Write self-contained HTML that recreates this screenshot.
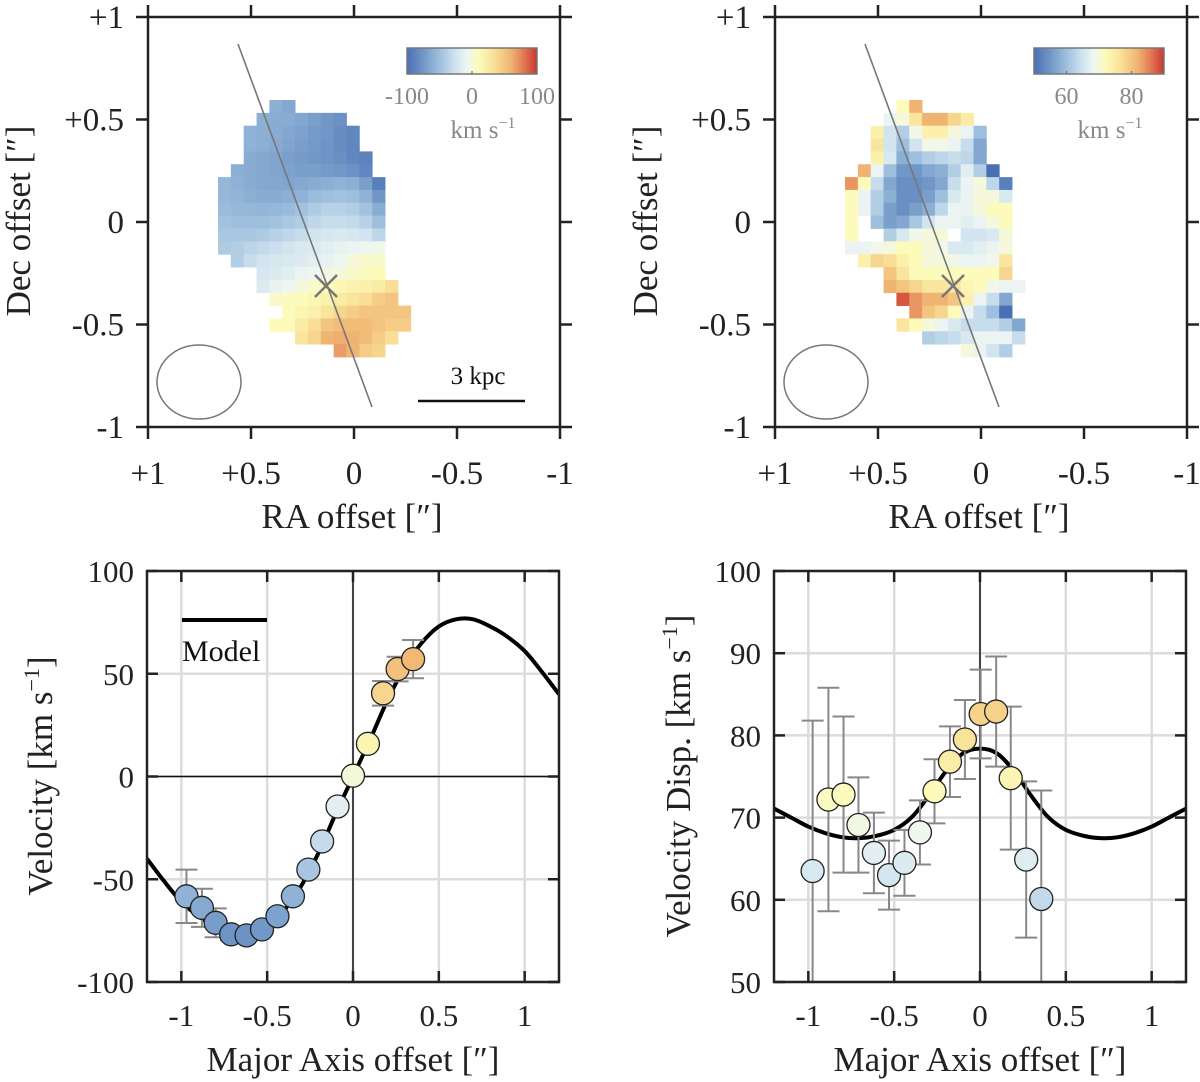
<!DOCTYPE html>
<html><head><meta charset="utf-8"><style>
html,body{margin:0;padding:0;background:#fff;}
svg{display:block;font-family:"Liberation Serif",serif;}
</style></head><body>
<svg id="fig" width="1200" height="1082" viewBox="0 0 1200 1082" xmlns="http://www.w3.org/2000/svg">
<defs>
<linearGradient id="cmap" x1="0" x2="1" y1="0" y2="0">
<stop offset="0" stop-color="#4a6fb5"/><stop offset="0.12" stop-color="#6f95c6"/><stop offset="0.25" stop-color="#9ebfdd"/><stop offset="0.37" stop-color="#cfe3ef"/><stop offset="0.46" stop-color="#eef6f2"/><stop offset="0.55" stop-color="#fdfbbb"/><stop offset="0.66" stop-color="#f9e39a"/><stop offset="0.8" stop-color="#f0b472"/><stop offset="0.91" stop-color="#e0714e"/><stop offset="1" stop-color="#c6392f"/>
</linearGradient>
<clipPath id="clipL"><rect x="147" y="571" width="412" height="411"/></clipPath>
<clipPath id="clipR"><rect x="774" y="571" width="412" height="411"/></clipPath>
</defs>
<g id="root"></g>
</svg>
<script>
// ---------- data ----------
const velRowStart=[4,3,2,2,2,1,0,0,0,0,0,0,1,3,3,4,5,4,6,9];
const velRows=[
[-60,-65],
[-60,-62,-62,-65,-70,-75,-78],
[-58,-60,-62,-65,-68,-72,-75,-82,-85],
[-58,-60,-63,-66,-70,-73,-76,-82,-85],
[-62,-64,-66,-70,-72,-74,-76,-80,-85,-88],
[-60,-62,-64,-66,-68,-70,-70,-72,-74,-78,-85],
[-55,-58,-62,-64,-65,-66,-64,-62,-60,-58,-60,-70,-90],
[-55,-57,-60,-62,-62,-60,-58,-52,-50,-48,-50,-58,-75],
[-52,-54,-55,-56,-55,-52,-48,-42,-38,-38,-40,-48,-62],
[-48,-50,-50,-50,-48,-44,-40,-34,-30,-30,-32,-38,-50],
[-45,-45,-45,-42,-38,-34,-30,-25,-22,-20,-22,-25,-35],
[-42,-40,-36,-32,-28,-24,-20,-18,-15,-12,-10,-8,-5],
[-40,-30,-25,-22,-20,-18,-15,-12,-8,0,5,5],
[-22,-18,-15,-10,-8,-3,0,5,8,12],
[-18,-12,-8,0,5,10,15,18,20,25,35],
[5,8,10,15,20,25,30,35,45,50],
[10,15,20,30,40,45,50,50,50,50],
[10,12,25,35,50,55,55,55,50,45,45],
[30,40,60,62,60,55,45,35],
[68,60,45,40]];
const dispRowStart=[4,3,2,2,2,1,0,0,0,0,0,0,1,3,3,4,5,4,6,9];
const dispRows=[
[72,82],
[68,70,76,82,82,78,75],
[74,65,62,69,74,74,70,68,60],
[76,65,60,65,69,69,68,64,57],
[74,66,58,60,62,63,64,63,57],
[82,68,60,55,55,57,58,62,67,62,47],
[84,72,64,57,54,54,55,57,64,68,70,63,52],
[72,68,62,58,54,54,56,60,66,68,70,70,66],
[72,68,62,56,54,56,58,63,68,68,70,72,72],
[72,null,60,56,57,61,65,68,68,67,68,70,72],
[72,null,null,62,66,69,70,70,null,65,65,66,70],
[68,68,69,70,72,72,70,69,66,66,67,68,70],
[74,78,77,74,72,70,70,69,68,68,69,76],
[80,76,72,72,72,72,72,72,72,78],
[82,80,78,76,76,76,73,72,69,68,68],
[88,84,82,82,80,74,68,64,57],
[84,80,78,72,68,64,60,50],
[76,72,70,68,66,64,64,64,62,57],
[62,63,64,66,68,68,68,64],
[70,68,65,62]];
const velX=[-0.97,-0.88,-0.80,-0.71,-0.62,-0.53,-0.44,-0.35,-0.26,-0.18,-0.09,0.0,0.087,0.175,0.26,0.35];
const velY=[-58.3,-63.9,-71.2,-76.8,-77.3,-74.4,-68,-58.3,-45.3,-31.6,-14.6,0.4,15.9,40.5,52.3,57.1];
const velErr=[13,9.3,7,3,2,2,2,2,2,2,2,2,2,6,6,9.3];
const modelVX=[-1.2,-1.1,-1.0,-0.9,-0.8,-0.7,-0.6,-0.5,-0.4,-0.3,-0.2,-0.1,0,0.1,0.2,0.3,0.4,0.5,0.6,0.7,0.8,0.9,1.0,1.1,1.2];
const modelV=[-40,-51,-61,-68,-73,-76.5,-76.5,-73,-65,-53,-37,-18,0,18,37,53,65,73,76.5,76.5,73,68,61,51,40];
const dispX=[-0.975,-0.883,-0.795,-0.708,-0.618,-0.53,-0.44,-0.35,-0.265,-0.175,-0.088,0.004,0.094,0.179,0.269,0.357];
const dispY=[63.5,72.2,72.8,69.1,65.7,63.0,64.5,68.2,73.2,76.8,79.5,82.6,82.9,74.8,64.9,60.1];
const dispErr=[18.3,13.6,9.5,5.8,4.9,4.2,4,3.9,3.9,4.3,4.8,5.4,6.7,8.7,9.5,13.2];
const modelDX=[-1.2,-1.1,-1.0,-0.9,-0.8,-0.7,-0.6,-0.5,-0.4,-0.3,-0.2,-0.1,0,0.1,0.2,0.3,0.4,0.5,0.6,0.7,0.8,0.9,1.0,1.1,1.2];
const modelD=[71.1,70.0,68.9,68.1,67.6,67.5,67.8,68.5,70.0,72.6,75.6,77.8,78.4,77.8,75.6,72.6,70.0,68.5,67.8,67.5,67.6,68.1,68.9,70.0,71.1];
const mapTickLabels=["+1","+0.5","0","-0.5","-1"];
const mapTickVals=[1,0.5,0,-0.5,-1];
const lineXTickVals=[-1,-0.5,0,0.5,1];
const lineXTickLabels=["-1","-0.5","0","0.5","1"];
const velTickVals=[100,50,0,-50,-100];
const velTickLabels=["100","50","0","-50","-100"];
const dispTickVals=[100,90,80,70,60,50];
const dispTickLabels=["100","90","80","70","60","50"];

// ---------- helpers ----------
const NS="http://www.w3.org/2000/svg";
const root=document.getElementById('root');
function mk(tag,attrs,parent){const e=document.createElementNS(NS,tag);for(const k in attrs)e.setAttribute(k,attrs[k]);(parent||root).appendChild(e);return e;}
const stops=[[0,[0x4a,0x6f,0xb5]],[0.12,[0x6f,0x95,0xc6]],[0.25,[0x9e,0xbf,0xdd]],[0.37,[0xcf,0xe3,0xef]],[0.46,[0xee,0xf6,0xf2]],[0.55,[0xfd,0xfb,0xbb]],[0.66,[0xf9,0xe3,0x9a]],[0.8,[0xf0,0xb4,0x72]],[0.91,[0xe0,0x71,0x4e]],[1,[0xc6,0x39,0x2f]]];
function cmap(t){t=Math.max(0,Math.min(1,t));for(let i=1;i<stops.length;i++){if(t<=stops[i][0]){const a=stops[i-1],b=stops[i];const f=(t-a[0])/(b[0]-a[0]);const c=a[1].map((v,j)=>Math.round(v+(b[1][j]-v)*f));return `rgb(${c[0]},${c[1]},${c[2]})`;}}return 'rgb(198,57,47)';}
function smoothPath(pts){let d=`M${pts[0][0]},${pts[0][1]}`;for(let i=0;i<pts.length-1;i++){const p0=pts[Math.max(0,i-1)],p1=pts[i],p2=pts[i+1],p3=pts[Math.min(pts.length-1,i+2)];const c1=[p1[0]+(p2[0]-p0[0])/6,p1[1]+(p2[1]-p0[1])/6],c2=[p2[0]-(p3[0]-p1[0])/6,p2[1]-(p3[1]-p1[1])/6];d+=`C${c1[0].toFixed(1)},${c1[1].toFixed(1)} ${c2[0].toFixed(1)},${c2[1].toFixed(1)} ${p2[0].toFixed(1)},${p2[1].toFixed(1)}`;}return d;}

// ---------- map panels ----------
function mapPanel(L,rowStart,rows,vmin,vmax,cbTicks,cbLabels,name){
  const g=mk('g',{});
  
  
  const T=17,B=427,R=L+412;
  const sx=v=>L+(1-v)*206, sy=v=>222-v*205;
  const cell=12.85, ox=L+70, oy=100;
  rows.forEach((row,r)=>{row.forEach((v,i)=>{if(v===null)return;const c=rowStart[r]+i;
    const rc=mk('rect',{x:(ox+c*cell).toFixed(2),y:(oy+r*cell).toFixed(2),width:cell+0.4,height:cell+0.4,fill:cmap((v-vmin)/(vmax-vmin))},g);
    
    });});
  const ln=mk('line',{x1:L+90,y1:44,x2:L+224,y2:407,stroke:'#777','stroke-width':1.6},g);
  
  
  const cx=L+178,cy=286;
  const cr=mk('path',{d:`M${cx-11},${cy-11}L${cx+11},${cy+11}M${cx-11},${cy+11}L${cx+11},${cy-11}`,stroke:'#777','stroke-width':2.5,fill:'none'},g);
  
  
  const el=mk('ellipse',{cx:L+51,cy:382,rx:42,ry:37,fill:'none',stroke:'#777','stroke-width':1.5},g);
  
  
  const fr=mk('rect',{x:L,y:T,width:412,height:410,fill:'none',stroke:'#222','stroke-width':2.5},g);
  
  
  mapTickVals.forEach((v,i)=>{
    const x=sx(v),y=sy(v);
    mk('line',{x1:x,y1:B,x2:x,y2:B+12,stroke:'#222','stroke-width':2.5},g);
    mk('line',{x1:x,y1:T,x2:x,y2:T-12,stroke:'#222','stroke-width':2.5},g);
    mk('line',{x1:L,y1:y,x2:L-12,y2:y,stroke:'#222','stroke-width':2.5},g);
    mk('line',{x1:R,y1:y,x2:R+12,y2:y,stroke:'#222','stroke-width':2.5},g);
    const tx=mk('text',{x:x,y:484,'font-size':33,'text-anchor':'middle',fill:'#222'},g);tx.textContent=mapTickLabels[i];
    
    
    const ty=mk('text',{x:L-24,y:y+11,'font-size':33,'text-anchor':'end',fill:'#222'},g);ty.textContent=mapTickLabels[i];
    
    
  });
  const xt=mk('text',{x:L+204,y:528,'font-size':35,'text-anchor':'middle',fill:'#222'},g);xt.textContent='RA offset [″]';
  
  
  const yt=mk('text',{x:0,y:0,'font-size':35,'text-anchor':'middle',fill:'#222',transform:`translate(${L-118},221) rotate(-90)`},g);yt.textContent='Dec offset [″]';
  
  
  const cbL=L+259,cbW=130;
  const cb=mk('rect',{x:cbL,y:48,width:cbW,height:26,fill:'url(#cmap)',stroke:'#777','stroke-width':1.5},g);
  
  
  cbTicks.forEach((v,i)=>{const x=cbL+(v-vmin)/(vmax-vmin)*cbW;
    mk('line',{x1:x,y1:74,x2:x,y2:71,stroke:'#777','stroke-width':1.2},g);
    const t=mk('text',{x:x,y:104,'font-size':24,'text-anchor':'middle',fill:'#888'},g);t.textContent=cbLabels[i];
    
    });
  const ut=mk('text',{x:cbL+76,y:138,'font-size':25,'text-anchor':'middle',fill:'#888'},g);
  ut.innerHTML='km s<tspan dy="-10" font-size="16">−1</tspan>';
  
  
}
mapPanel(148,velRowStart,velRows,-100,100,[-100,0,100],["-100","0","100"],'velocity-map');
mapPanel(775,dispRowStart,dispRows,50,90,[60,80],["60","80"],'dispersion-map');
const sbt=mk('text',{x:478,y:384,'font-size':25,'text-anchor':'middle',fill:'#111'});sbt.textContent='3 kpc';


const sb=mk('line',{x1:418,y1:401,x2:525,y2:401,stroke:'#111','stroke-width':2.5});



// ---------- line panels ----------
function linePanel(L,ymin,ymax,yTickVals,yTickLabels,xs,ys,errs,mx,my,cmin,cmax,clip,ytitle,ytitleX,name,legend){
  const g=mk('g',{});
  
  
  const T=571,B=982,W=412,R=L+W;
  const sx=v=>L+(v+1.2)/2.4*W, sy=v=>B-(v-ymin)/(ymax-ymin)*(B-T);
  lineXTickVals.forEach(v=>{const gl=mk('line',{x1:sx(v),y1:T,x2:sx(v),y2:B,stroke:'#dcdcdc','stroke-width':2.5},g);});
  yTickVals.forEach(v=>{const gl=mk('line',{x1:L,y1:sy(v),x2:R,y2:sy(v),stroke:'#dcdcdc','stroke-width':2.5},g);});
  const zx=mk('line',{x1:sx(0),y1:T,x2:sx(0),y2:B,stroke:'#111','stroke-width':1.5},g);
  
  
  if(ymin<0){const zy=mk('line',{x1:L,y1:sy(0),x2:R,y2:sy(0),stroke:'#111','stroke-width':1.5},g);
    
    }
  const cg=mk('g',{'clip-path':`url(#${clip})`},g);
  const pts=mx.map((x,i)=>[sx(x),sy(my[i])]);
  const mp=mk('path',{d:smoothPath(pts),fill:'none',stroke:'#000','stroke-width':4},cg);
  
  
  xs.forEach((x,i)=>{const px=sx(x),y1=sy(ys[i]+errs[i]),y2=sy(ys[i]-errs[i]);
    const eb=mk('path',{d:`M${px},${y1}L${px},${y2}M${px-11},${y1}L${px+11},${y1}M${px-11},${y2}L${px+11},${y2}`,stroke:'#888','stroke-width':2,fill:'none'},cg);
    
    });
  xs.forEach((x,i)=>{const c=mk('circle',{cx:sx(x),cy:sy(ys[i]),r:11.5,fill:cmap((ys[i]-cmin)/(cmax-cmin)),stroke:'#222','stroke-width':1.3},cg);
    
    });
  const fr=mk('rect',{x:L,y:T,width:W,height:B-T,fill:'none',stroke:'#222','stroke-width':2.5},g);
  
  
  lineXTickVals.forEach((v,i)=>{const x=sx(v);
    mk('line',{x1:x,y1:B,x2:x,y2:B-11,stroke:'#222','stroke-width':2.5},g);
    mk('line',{x1:x,y1:T,x2:x,y2:T+11,stroke:'#222','stroke-width':2.5},g);
    const t=mk('text',{x:x,y:1026,'font-size':31,'text-anchor':'middle',fill:'#222'},g);t.textContent=lineXTickLabels[i];
    
    });
  yTickVals.forEach((v,i)=>{const y=sy(v);
    mk('line',{x1:L,y1:y,x2:L+11,y2:y,stroke:'#222','stroke-width':2.5},g);
    mk('line',{x1:R,y1:y,x2:R-11,y2:y,stroke:'#222','stroke-width':2.5},g);
    const t=mk('text',{x:L-13,y:y+11,'font-size':31,'text-anchor':'end',fill:'#222'},g);t.textContent=yTickLabels[i];
    
    });
  const xt=mk('text',{x:L+206,y:1071,'font-size':35,'text-anchor':'middle',fill:'#222'},g);xt.textContent='Major Axis offset [″]';
  
  
  const yt=mk('text',{x:0,y:0,'font-size':35,'text-anchor':'middle',fill:'#222',transform:`translate(${ytitleX},776) rotate(-90)`},g);
  yt.innerHTML=ytitle+' [km s<tspan dy="-13" font-size="22">−1</tspan><tspan dy="13">]</tspan>';
  
  
  if(legend){const ll=mk('line',{x1:182,y1:620,x2:267,y2:620,stroke:'#000','stroke-width':4},g);
    
    
    const lt=mk('text',{x:182,y:661,'font-size':30,fill:'#111'},g);lt.textContent='Model';
    
    }
}
linePanel(147,-100,100,velTickVals,velTickLabels,velX,velY,velErr,modelVX,modelV,-100,100,'clipL','Velocity',52,'velocity-curve-plot',true);
linePanel(774,50,100,dispTickVals,dispTickLabels,dispX,dispY,dispErr,modelDX,modelD,40,100,'clipR','Velocity Disp.',690,'dispersion-curve-plot',false);
</script>
</body></html>
